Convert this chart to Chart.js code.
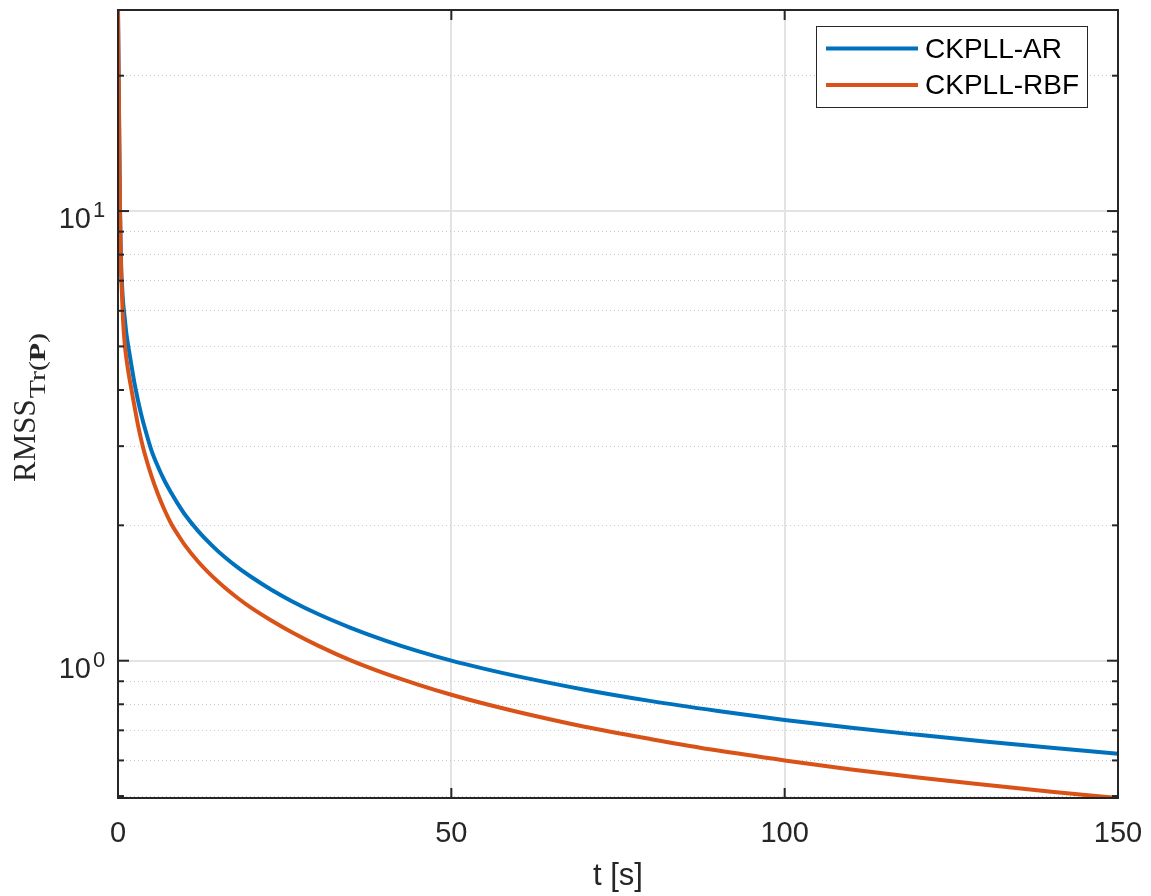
<!DOCTYPE html>
<html>
<head>
<meta charset="utf-8">
<title>RMSS</title>
<script src="https://cdn.jsdelivr.net/npm/chart.js@4.4.1/dist/chart.umd.min.js"></script>
<style>
	html, body { margin: 0; padding: 0; background: #fff; }
	#wrap { width: 1151px; height: 896px; }
</style>
</head>
<body>
<div id="wrap"><canvas id="chart-rmss" width="1151" height="896"></canvas></div>
<script>
// time samples [s] and RMSS of Tr(P) for both filters
const T_SAMPLES = [0, 0.05, 0.1, 0.15, 0.2, 0.3, 0.4, 0.5, 0.6, 0.75, 1, 1.25, 1.5, 2, 2.5, 3, 3.5, 4, 5, 6, 7, 8, 9, 10, 12, 14, 16, 18, 20, 23, 26, 30, 35, 40, 45, 50, 55, 60, 70, 80, 90, 100, 110, 120, 130, 140, 150];
const RMSS_AR = [28, 23.5, 19.9, 16.8, 14.0, 10.2, 8.4, 7.3, 6.85, 6.3, 5.8, 5.35, 5.05, 4.55, 4.12, 3.79, 3.52, 3.3, 2.94, 2.70, 2.51, 2.36, 2.23, 2.117, 1.944, 1.81, 1.70, 1.61, 1.535, 1.438, 1.358, 1.27, 1.182, 1.11, 1.05, 1.0, 0.959, 0.923, 0.862, 0.813, 0.773, 0.738, 0.709, 0.684, 0.661, 0.640, 0.621];
const RMSS_RBF = [28, 23.5, 19.8, 16.7, 13.9, 10.0, 8.2, 7.1, 6.5, 5.75, 5.08, 4.71, 4.44, 4.02, 3.66, 3.34, 3.09, 2.89, 2.58, 2.345, 2.16, 2.013, 1.905, 1.81, 1.662, 1.548, 1.455, 1.377, 1.31, 1.228, 1.158, 1.08, 1.0, 0.937, 0.885, 0.84, 0.802, 0.769, 0.713, 0.669, 0.631, 0.600, 0.573, 0.550, 0.530, 0.511, 0.495];
const SERIES_LABELS = ["CKPLL-AR", "CKPLL-RBF"];

const X_TICKS = [0, 50, 100, 150];
const Y_MAJOR_TICKS = [1, 10];
const Y_MINOR_TICKS = [0.5, 0.6, 0.7, 0.8, 0.9, 2, 3, 4, 5, 6, 7, 8, 9, 20];
const X_RANGE = [0, 150];
const Y_RANGE = [0.495, 28];

const COLORS = {
	blue: "#0072BD",
	orange: "#D95319",
	axis: "#262626",
	grid: "#e3e3e3",
	minor: "#c8c8c8",
};
const SANS = "'Liberation Sans', Arial, Helvetica, sans-serif";
const SERIF = "'Liberation Serif', 'Times New Roman', serif";

const toPoints = (ys) => T_SAMPLES.map((t, i) => ({ x: t, y: ys[i] }));

// box, inward ticks, 10^n labels, y title and legend
const axesDecor = {
	id: "axesDecor",
	afterDatasetsDraw(chart) {
		const { ctx, chartArea: area, scales } = chart;
		const x = scales.x;
		const y = scales.y;
		ctx.save();

		ctx.strokeStyle = COLORS.axis;
		ctx.lineWidth = 2;
		const seg = (x1, y1, x2, y2) => {
			ctx.beginPath();
			ctx.moveTo(x1, y1);
			ctx.lineTo(x2, y2);
			ctx.stroke();
		};
		Y_MAJOR_TICKS.forEach((v) => {
			const py = y.getPixelForValue(v);
			seg(area.left, py, area.left + 11, py);
			seg(area.right, py, area.right - 11, py);
		});
		Y_MINOR_TICKS.forEach((v) => {
			const py = y.getPixelForValue(v);
			seg(area.left, py, area.left + 6, py);
			seg(area.right, py, area.right - 6, py);
		});
		X_TICKS.forEach((v) => {
			const px = x.getPixelForValue(v);
			seg(px, area.bottom, px, area.bottom - 10);
			seg(px, area.top, px, area.top + 10);
		});
		ctx.strokeRect(area.left, area.top, area.right - area.left, area.bottom - area.top);

		// y tick labels as 10^n
		ctx.fillStyle = COLORS.axis;
		ctx.textBaseline = "alphabetic";
		Y_MAJOR_TICKS.forEach((v) => {
			const py = y.getPixelForValue(v);
			ctx.font = "29px " + SANS;
			ctx.textAlign = "right";
			ctx.fillText("10", area.left - 27, py + 17);
			ctx.font = "22px " + SANS;
			ctx.textAlign = "left";
			ctx.fillText(String(Math.round(Math.log10(v))), area.left - 25, py + 6);
		});

		// y title: RMSS with Tr(P) subscript (subscript set wide, like a small optical size)
		ctx.save();
		ctx.translate(35, 482);
		ctx.rotate(-Math.PI / 2);
		ctx.textAlign = "left";
		ctx.font = "31px " + SERIF;
		ctx.fillText("RMSS", 0, 0);
		ctx.translate(ctx.measureText("RMSS").width + 1, 10);
		ctx.scale(1.3, 1);
		let u = 0;
		const sub = [
			["Tr(", "23px " + SERIF],
			["P", "bold 23px " + SERIF],
			[")", "23px " + SERIF],
		];
		sub.forEach(([txt, font]) => {
			ctx.font = font;
			ctx.fillText(txt, u, 0);
			u += ctx.measureText(txt).width;
		});
		ctx.restore();

		// legend
		const lx = area.right - 302;
		const ly = area.top + 16;
		ctx.fillStyle = "#fff";
		ctx.fillRect(lx, ly, 271, 81);
		ctx.strokeStyle = COLORS.axis;
		ctx.lineWidth = 1;
		ctx.strokeRect(lx + 0.5, ly + 0.5, 271, 81);
		ctx.font = "28px " + SANS;
		ctx.textAlign = "left";
		ctx.textBaseline = "middle";
		chart.data.datasets.forEach((ds, i) => {
			const rowY = ly + 22.5 + i * 36.5;
			ctx.strokeStyle = ds.borderColor;
			ctx.lineWidth = ds.borderWidth;
			seg(lx + 10, rowY, lx + 102, rowY);
			ctx.fillStyle = "#000";
			ctx.fillText(ds.label, lx + 109, rowY + 1.5);
		});

		ctx.restore();
	},
};

const CHART_CONFIG = {
	type: "line",
	data: {
		datasets: [
			{
				label: SERIES_LABELS[0],
				data: toPoints(RMSS_AR),
				borderColor: COLORS.blue,
				borderWidth: 4,
				pointRadius: 0,
				cubicInterpolationMode: "monotone",
				order: 1,
			},
			{
				label: SERIES_LABELS[1],
				data: toPoints(RMSS_RBF),
				borderColor: COLORS.orange,
				borderWidth: 4,
				pointRadius: 0,
				cubicInterpolationMode: "monotone",
				order: 0,
			},
		],
	},
	options: {
		responsive: false,
		animation: false,
		layout: {
			padding: { top: 10, right: 33, left: 0, bottom: 0 },
		},
		plugins: {
			legend: { display: false },
			tooltip: { enabled: false },
		},
		scales: {
			x: {
				type: "linear",
				min: X_RANGE[0],
				max: X_RANGE[1],
				afterBuildTicks: (scale) => {
					scale.ticks = X_TICKS.map((v) => ({ value: v }));
				},
				afterFit: (scale) => {
					scale.height = 98;
					scale.paddingLeft = 0;
					scale.paddingRight = 0;
				},
				border: { display: false },
				grid: {
					color: COLORS.grid,
					lineWidth: 2,
					drawTicks: false,
				},
				ticks: {
					color: COLORS.axis,
					font: { family: SANS, size: 29 },
					padding: 19,
					maxRotation: 0,
				},
				title: {
					display: true,
					text: "t [s]",
					color: COLORS.axis,
					font: { family: SANS, size: 31 },
					padding: { top: 0, bottom: 1 },
				},
			},
			y: {
				type: "logarithmic",
				position: "left",
				min: Y_RANGE[0],
				max: Y_RANGE[1],
				afterBuildTicks: (scale) => {
					scale.ticks = Y_MAJOR_TICKS.map((v) => ({ value: v }));
				},
				afterFit: (scale) => {
					scale.width = 118;
				},
				border: { display: false },
				grid: {
					color: COLORS.grid,
					lineWidth: 2,
					drawTicks: false,
				},
				ticks: { display: false },
			},
			yMinor: {
				type: "logarithmic",
				position: "right",
				min: Y_RANGE[0],
				max: Y_RANGE[1],
				afterBuildTicks: (scale) => {
					scale.ticks = Y_MINOR_TICKS.map((v) => ({ value: v }));
				},
				afterFit: (scale) => {
					scale.width = 0;
				},
				border: { display: false, dash: [1, 3] },
				grid: {
					color: COLORS.minor,
					lineWidth: 1,
					drawTicks: false,
				},
				ticks: { display: false },
			},
		},
	},
	plugins: [axesDecor],
};

const CHART_WRAPPER = document.getElementById("chart-rmss");
if (CHART_WRAPPER) {
	new Chart(CHART_WRAPPER, CHART_CONFIG);
}
</script>
</body>
</html>
